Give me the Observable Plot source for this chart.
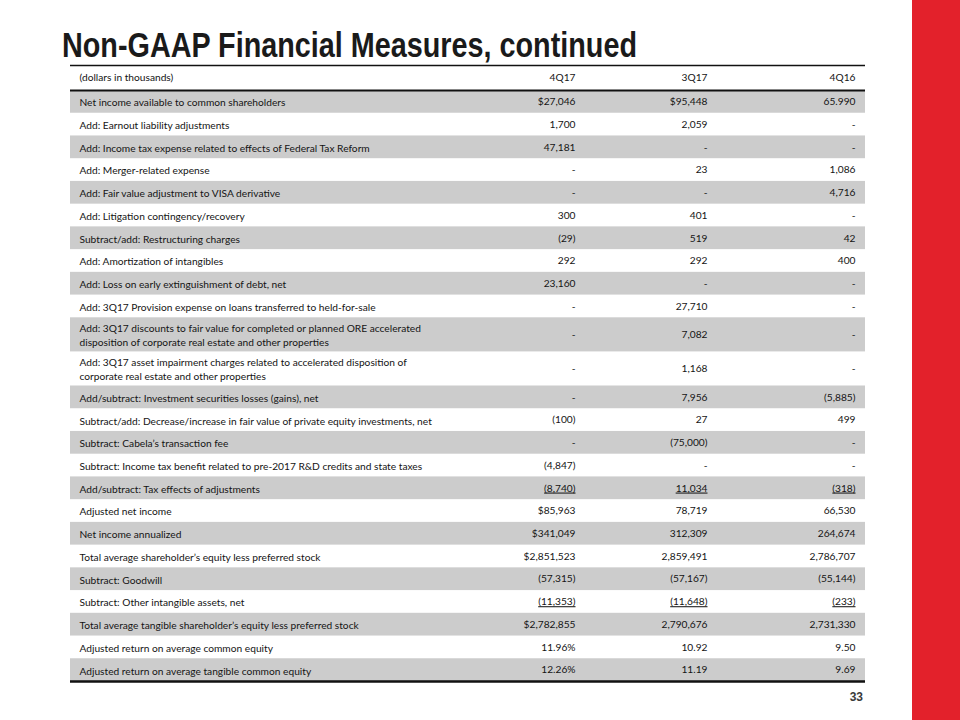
<!DOCTYPE html>
<html>
<head>
<meta charset="utf-8">
<script src="https://cdn.jsdelivr.net/npm/d3@7"></script>
<script src="https://cdn.jsdelivr.net/npm/@observablehq/plot@0.6"></script>
<style>
  html, body { margin: 0; padding: 0; background: #fff; }
  #page { position: relative; width: 960px; height: 720px; overflow: hidden; background: #fff; }
  #redbar { position: absolute; left: 912px; top: 0; width: 48px; height: 720px; background: #e3212b; }
  #overlay { position: absolute; left: 0; top: 0; }
  #chart { position: absolute; left: 0; top: 0; }
</style>
</head>
<body>
<div id="page">
  <div id="chart"></div>
  <svg id="overlay" width="960" height="720">
    <text id="title" x="62" y="57" textLength="575" lengthAdjust="spacingAndGlyphs"
      style="font-family:'Liberation Sans Narrow','Arial Narrow','Liberation Sans',sans-serif;font-weight:bold;font-size:35px;fill:#1a1a1a;">Non-GAAP Financial Measures, continued</text>
    <text id="pagenum" x="863" y="701" text-anchor="end"
      style="font-family:'Liberation Sans Narrow','Liberation Sans',sans-serif;font-weight:bold;font-size:12px;fill:#3a3a3a;">33</text>
  </svg>
  <div id="redbar"></div>
</div>
<script>
// ---- Data ----
const unitLabel = "(dollars in thousands)";
const periods = ["4Q17", "3Q17", "4Q16"];

const labels = [
  "Net income available to common shareholders",
  "Add: Earnout liability adjustments",
  "Add: Income tax expense related to effects of Federal Tax Reform",
  "Add: Merger-related expense",
  "Add: Fair value adjustment to VISA derivative",
  "Add: Litigation contingency/recovery",
  "Subtract/add: Restructuring charges",
  "Add: Amortization of intangibles",
  "Add: Loss on early extinguishment of debt, net",
  "Add: 3Q17 Provision expense on loans transferred to held-for-sale",
  "Add: 3Q17 discounts to fair value for completed or planned ORE accelerated\ndisposition of corporate real estate and other properties",
  "Add: 3Q17 asset impairment charges related to accelerated disposition of\ncorporate real estate and other properties",
  "Add/subtract: Investment securities losses (gains), net",
  "Subtract/add: Decrease/increase in fair value of private equity investments, net",
  "Subtract: Cabela\u2019s transaction fee",
  "Subtract: Income tax benefit related to pre-2017 R&D credits and state taxes",
  "Add/subtract: Tax effects of adjustments",
  "Adjusted net income",
  "Net income annualized",
  "Total average shareholder\u2019s equity less preferred stock",
  "Subtract: Goodwill",
  "Subtract: Other intangible assets, net",
  "Total average tangible shareholder\u2019s equity less preferred stock",
  "Adjusted return on average common equity",
  "Adjusted return on average tangible common equity"
];

const values4Q17 = ["$27,046","1,700","47,181","-","-","300","(29)","292","23,160","-","-","-","-","(100)","-","(4,847)","(8,740)","$85,963","$341,049","$2,851,523","(57,315)","(11,353)","$2,782,855","11.96%","12.26%"];
const values3Q17 = ["$95,448","2,059","-","23","-","401","519","292","-","27,710","7,082","1,168","7,956","27","(75,000)","-","11,034","78,719","312,309","2,859,491","(57,167)","(11,648)","2,790,676","10.92","11.19"];
const values4Q16 = ["65.990","-","-","1,086","4,716","-","42","400","-","-","-","-","(5,885)","499","-","-","(318)","66,530","264,674","2,786,707","(55,144)","(233)","2,731,330","9.50","9.69"];

const underlinedRows = [
  "Add/subtract: Tax effects of adjustments",
  "Subtract: Other intangible assets, net"
];

// ---- Derived table structure ----
const headerUnits = 1.1;
let cursor = headerUnits;
const rows = labels.map((label, i) => {
  const units = label.includes("\n") ? 1.5 : 1;
  const r = { i, label, y0: cursor, y1: cursor + units, mid: cursor + units / 2, shaded: i % 2 === 0 };
  cursor += units;
  return r;
});
const total = cursor;
const cols = [values4Q17, values3Q17, values4Q16];
const cells = rows.flatMap(r => periods.map((p, j) => ({
  period: p, mid: r.mid, text: cols[j][r.i], under: underlinedRows.includes(r.label)
})));

const font = "Lato, 'Open Sans', sans-serif";
const ink = "#141414";
const fs = 10.2;
// middle column sits slightly left of the even spacing
const colShift = { "4Q17": 0, "3Q17": -8, "4Q16": 0 };

const valueMarks = periods.flatMap(p => [
  Plot.text([p], { x: d => d, y: () => headerUnits / 2, text: d => d, textAnchor: "end", fontSize: fs, fill: ink, dx: colShift[p] }),
  Plot.text(cells.filter(c => c.period === p && !c.under), { x: "period", y: "mid", text: "text", textAnchor: "end", fontSize: fs, fill: ink, dx: colShift[p] }),
]);
const underMarks = periods.map(p =>
  Plot.text(cells.filter(c => c.period === p && c.under), { x: "period", y: "mid", text: "text", textAnchor: "end", fontSize: fs, fill: ink, dx: colShift[p], ariaDescription: "underlined" })
);

const chart = Plot.plot({
  width: 960,
  height: 720,
  marginLeft: 70,
  marginRight: 95,
  marginTop: 65,
  marginBottom: 39,
  style: { fontFamily: font, background: "transparent", color: ink, overflow: "visible" },
  x: { type: "point", domain: periods, range: [575, 855], padding: 0, axis: null },
  y: { domain: [0, total], range: [65, 681], axis: null },
  marks: [
    Plot.rect(rows.filter(r => r.shaded), { y1: "y0", y2: "y1", fill: "#cccccc" }),
    Plot.ruleY([0], { stroke: "#111", strokeWidth: 1.5 }),
    Plot.ruleY([headerUnits], { stroke: "#111", strokeWidth: 2 }),
    Plot.ruleY([total], { stroke: "#111", strokeWidth: 2.5 }),
    Plot.text([unitLabel], { frameAnchor: "left", y: () => headerUnits / 2, text: d => d, dx: 9, textAnchor: "start", fontSize: fs, fill: ink }),
    Plot.text(rows, { frameAnchor: "left", y: "mid", text: "label", dx: 9, textAnchor: "start", fontSize: fs, lineHeight: 1.35, fill: ink }),
    ...valueMarks,
    ...underMarks
  ]
});
document.getElementById("chart").appendChild(chart);
chart.querySelectorAll('g[aria-description="underlined"] text').forEach(t => t.style.textDecoration = "underline");
</script>
</body>
</html>
